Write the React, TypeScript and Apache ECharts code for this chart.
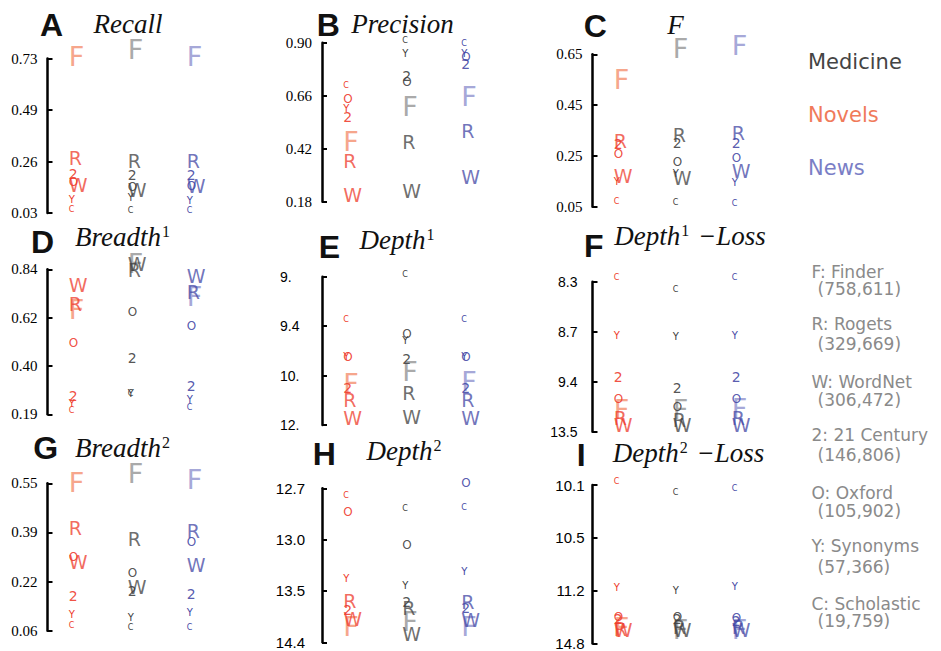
import React, { useEffect, useRef } from "react";
import * as echarts from "echarts";

// ---------- data ----------
const LETTERS = ["F", "R", "W", "2", "O", "Y", "C"];
const THESAURUS_NAMES = ["F: Finder", "R: Rogets", "W: WordNet", "2: 21 Century", "O: Oxford", "Y: Synonyms", "C: Scholastic"];
const THESAURUS_SIZES = ["(758,611)", "(329,669)", "(306,472)", "(146,806)", "(105,902)", "(57,366)", "(19,759)"];
const CORPORA = ["Novels", "Medicine", "News"];
const LEGEND_CORPORA = ["Medicine", "Novels", "News"];

// values per corpus [Novels, Medicine, News], each in letter order F R W 2 O Y C
const recallTicks = ["0.73", "0.49", "0.26", "0.03"];
const recallValues = [
  [0.738, 0.275, 0.153, 0.202, 0.167, 0.089, 0.044],
  [0.772, 0.262, 0.134, 0.199, 0.146, 0.097, 0.040],
  [0.741, 0.262, 0.149, 0.198, 0.149, 0.084, 0.039],
];
const precisionTicks = ["0.90", "0.66", "0.42", "0.18"];
const precisionValues = [
  [0.452, 0.364, 0.210, 0.562, 0.645, 0.603, 0.704],
  [0.613, 0.452, 0.230, 0.749, 0.723, 0.852, 0.912],
  [0.655, 0.501, 0.293, 0.804, 0.834, 0.852, 0.897],
];
const fTicks = ["0.65", "0.45", "0.25", "0.05"];
const fValues = [
  [0.549, 0.310, 0.172, 0.297, 0.257, 0.148, 0.070],
  [0.674, 0.332, 0.162, 0.300, 0.227, 0.179, 0.067],
  [0.683, 0.339, 0.192, 0.300, 0.241, 0.145, 0.061],
];
const breadth1Ticks = ["0.84", "0.62", "0.40", "0.19"];
const breadth1Values = [
  [0.657, 0.683, 0.770, 0.269, 0.504, 0.235, 0.205],
  [0.866, 0.838, 0.862, 0.436, 0.645, 0.281, 0.279],
  [0.717, 0.737, 0.811, 0.314, 0.583, 0.254, 0.219],
];
const depth1Ticks = ["9.", "9.4", "10.", "12."];
const depth1Values = [
  [10.31, 10.99, 11.73, 10.49, 9.77, 9.77, 9.35],
  [9.95, 10.71, 11.69, 9.80, 9.50, 9.58, 8.98],
  [10.24, 10.99, 11.73, 10.49, 9.77, 9.77, 9.35],
];
const depth1LossTicks = ["8.3", "8.7", "9.4", "13.5"];
const depth1LossValues = [
  [11.72, 12.35, 12.95, 9.33, 10.82, 8.756, 8.27],
  [11.72, 12.54, 12.95, 9.94, 11.5, 8.77, 8.36],
  [11.58, 12.35, 12.95, 9.33, 10.82, 8.756, 8.27],
];
const breadth2Ticks = ["0.55", "0.39", "0.22", "0.06"];
const breadth2Values = [
  [0.552, 0.406, 0.286, 0.173, 0.306, 0.112, 0.076],
  [0.583, 0.367, 0.201, 0.190, 0.249, 0.103, 0.071],
  [0.561, 0.395, 0.278, 0.181, 0.356, 0.120, 0.071],
];
const depth2Ticks = ["12.7", "13.0", "13.5", "14.4"];
const depth2Values = [
  [14.13, 13.67, 14.0, 13.83, 12.84, 13.38, 12.74],
  [14.04, 13.80, 14.25, 13.69, 13.05, 13.45, 12.82],
  [14.13, 13.69, 14.01, 13.80, 12.67, 13.31, 12.81],
];
const depth2LossTicks = ["10.1", "10.5", "11.2", "14.8"];
const depth2LossValues = [
  [13.7, 13.82, 13.87, 13.14, 13.02, 11.16, 10.075],
  [13.87, 13.7, 13.87, 13.14, 13.02, 11.2, 10.16],
  [13.87, 13.7, 13.87, 13.25, 13.09, 11.14, 10.125],
];

// ---------- styles ----------
const CORPUS_RGB = [
  [238, 59, 44],
  [64, 64, 64],
  [68, 72, 165],
];
const F_COLORS = ["#f6a68c", "#aaaaaa", "#a6a8d8"];
const LETTER_ALPHA = [1, 0.75, 0.75, 0.9, 0.9, 1, 1];
const LETTER_SIZE = [27, 19, 19, 14, 12, 10, 8];
const LEGEND_COLORS = ["#444444", "#f07a5a", "#7a7ec6"];

const SERIF = "Liberation Serif, DejaVu Serif, serif";
const SANS = "Liberation Sans, Arial, sans-serif";
const DEJAVU = "DejaVu Sans, Verdana, sans-serif";

type Panel = {
  id: string;
  title: string;
  ticks: string[];
  values: number[][];
  left: number;
  top: number;
  height: number;
  idPos: [number, number];
  titlePos: [number, number];
  labelFont: string;
  labelSize: number;
  labelAlign: "left" | "right";
  labelMargin: number;
};

const PANELS: Panel[] = [
  { id: "A", title: "{t|Recall}", ticks: recallTicks, values: recallValues, left: 47.5, top: 58.5, height: 154.5, idPos: [51.5, 24.7], titlePos: [128, 23.7], labelFont: SERIF, labelSize: 15, labelAlign: "right", labelMargin: 10 },
  { id: "B", title: "{t|Precision}", ticks: precisionTicks, values: precisionValues, left: 322, top: 42.7, height: 159, idPos: [328.3, 25], titlePos: [402.5, 23.7], labelFont: SERIF, labelSize: 15, labelAlign: "right", labelMargin: 10 },
  { id: "C", title: "{t|F}", ticks: fTicks, values: fValues, left: 592.5, top: 54.3, height: 152.4, idPos: [595.3, 26.2], titlePos: [675.5, 25], labelFont: SERIF, labelSize: 15, labelAlign: "right", labelMargin: 10 },
  { id: "D", title: "{t|Breadth}{s|1}", ticks: breadth1Ticks, values: breadth1Values, left: 47.5, top: 269.3, height: 145, idPos: [42.5, 242], titlePos: [123.5, 236.5], labelFont: SERIF, labelSize: 15, labelAlign: "right", labelMargin: 10 },
  { id: "E", title: "{t|Depth}{s|1}", ticks: depth1Ticks, values: depth1Values, left: 322, top: 276.7, height: 148.3, idPos: [329.3, 246.7], titlePos: [398, 239.5], labelFont: SANS, labelSize: 14, labelAlign: "left", labelMargin: 42 },
  { id: "F", title: "{t|Depth}{s|1}{t| \u2212Loss}", ticks: depth1LossTicks, values: depth1LossValues, left: 592.5, top: 281.7, height: 150, idPos: [593.8, 245.5], titlePos: [690, 235.5], labelFont: SANS, labelSize: 14, labelAlign: "right", labelMargin: 15 },
  { id: "G", title: "{t|Breadth}{s|2}", ticks: breadth2Ticks, values: breadth2Values, left: 47.5, top: 483.3, height: 147.4, idPos: [45.8, 448.3], titlePos: [123.5, 448.3], labelFont: SERIF, labelSize: 15, labelAlign: "right", labelMargin: 10 },
  { id: "H", title: "{t|Depth}{s|2}", ticks: depth2Ticks, values: depth2Values, left: 322, top: 488.3, height: 154, idPos: [324.2, 453.8], titlePos: [405, 450.5], labelFont: SANS, labelSize: 15, labelAlign: "right", labelMargin: 17 },
  { id: "I", title: "{t|Depth}{s|2}{t| \u2212Loss}", ticks: depth2LossTicks, values: depth2LossValues, left: 592.5, top: 485, height: 159.3, idPos: [581.2, 454.5], titlePos: [688.5, 453.3], labelFont: SANS, labelSize: 15, labelAlign: "right", labelMargin: 8 },
];

// piecewise-linear position of a value between the axis ticks (tick index units)
function toPos(v: number, tickLabels: string[]): number {
  const t = tickLabels.map((s) => parseFloat(s));
  for (let i = 0; i < t.length - 1; i++) {
    const a = t[i];
    const b = t[i + 1];
    const inSeg = (v - a) * (v - b) <= 0;
    const beforeStart = i === 0 && (v - a) * (b - a) < 0;
    const last = i === t.length - 2;
    if (inSeg || beforeStart || last) return i + (v - a) / (b - a);
  }
  return 0;
}

function letterColor(ci: number, li: number) {
  if (li === 0) return F_COLORS[ci];
  const c = CORPUS_RGB[ci];
  return `rgba(${c[0]},${c[1]},${c[2]},${LETTER_ALPHA[li]})`;
}

export default function App() {
  const ref = useRef<HTMLDivElement>(null);

  useEffect(() => {
    if (!ref.current) return;
    const chart = echarts.init(ref.current, undefined, { renderer: "svg" });

    const grid = PANELS.map((p) => ({ left: p.left, top: p.top, width: 177, height: p.height, containLabel: false }));
    const xAxis = PANELS.map((p, i) => ({ gridIndex: i, type: "value", min: -0.36, max: 2.64, show: false }));
    const yAxis = PANELS.map((p, i) => ({
      gridIndex: i,
      type: "value",
      position: "left",
      min: 0,
      max: 3,
      interval: 1,
      inverse: true,
      axisLine: { show: true, onZero: false, lineStyle: { color: "#000", width: 2.5 } },
      axisTick: { show: true, inside: true, length: 5, lineStyle: { color: "#000", width: 2 } },
      splitLine: { show: false },
      axisLabel: {
        show: true,
        showMinLabel: true,
        showMaxLabel: true,
        formatter: (v: number) => p.ticks[Math.round(v)] ?? "",
        fontFamily: p.labelFont,
        fontSize: p.labelSize,
        color: "#000",
        align: p.labelAlign,
        margin: p.labelMargin,
      },
    }));

    const series = PANELS.map((p, i) => {
      const data: number[][] = [];
      for (let li = 0; li < LETTERS.length; li++) {
        for (let ci = 0; ci < CORPORA.length; ci++) {
          data.push([ci, toPos(p.values[ci][li], p.ticks), li, ci]);
        }
      }
      return {
        type: "custom",
        name: p.id,
        xAxisIndex: i,
        yAxisIndex: i,
        clip: false,
        silent: true,
        data,
        renderItem: (params: any, api: any) => {
          const pt = api.coord([api.value(0), api.value(1)]);
          const li = api.value(2) as number;
          const ci = api.value(3) as number;
          return {
            type: "text",
            x: pt[0],
            y: pt[1],
            style: {
              text: LETTERS[li],
              fontFamily: DEJAVU,
              fontSize: LETTER_SIZE[li],
              fill: letterColor(ci, li),
              align: "left",
              verticalAlign: "middle",
            },
          };
        },
      };
    });

    const graphic: any[] = [];
    PANELS.forEach((p) => {
      graphic.push({
        type: "text",
        x: p.idPos[0],
        y: p.idPos[1],
        style: { text: p.id, fontFamily: SANS, fontWeight: "bold", fontSize: 32, fill: "#111", align: "center", verticalAlign: "middle" },
      });
      graphic.push({
        type: "text",
        x: p.titlePos[0],
        y: p.titlePos[1],
        style: {
          text: p.title,
          align: "center",
          verticalAlign: "middle",
          rich: {
            t: { fontFamily: SERIF, fontStyle: "italic", fontSize: 27, fill: "#111" },
            s: { fontFamily: SERIF, fontSize: 16, fill: "#111", verticalAlign: "top", padding: [0, 2, 0, 1] },
          },
        },
      });
    });
    const corpusY = [61.7, 115, 168.3];
    LEGEND_CORPORA.forEach((name, i) => {
      graphic.push({
        type: "text",
        x: 808,
        y: corpusY[i],
        style: { text: name, fontFamily: DEJAVU, fontSize: 21, fill: LEGEND_COLORS[i], verticalAlign: "middle" },
      });
    });
    const nameY = [272.3, 324, 382.3, 435, 493, 546, 604];
    const sizeY = [289, 344.3, 400, 455, 510.7, 566.7, 620.7];
    THESAURUS_NAMES.forEach((name, i) => {
      graphic.push({
        type: "text",
        x: 811.5,
        y: nameY[i],
        style: { text: name, fontFamily: DEJAVU, fontSize: 17, fill: "#8a8a8a", verticalAlign: "middle" },
      });
      graphic.push({
        type: "text",
        x: 817.5,
        y: sizeY[i],
        style: { text: THESAURUS_SIZES[i], fontFamily: DEJAVU, fontSize: 17, fill: "#8a8a8a", verticalAlign: "middle" },
      });
    });

    chart.setOption({
      animation: false,
      backgroundColor: "#ffffff",
      grid,
      xAxis,
      yAxis,
      series,
      graphic,
    } as any);

    return () => chart.dispose();
  }, []);

  return <div ref={ref} style={{ position: "fixed", left: 0, top: 0, width: 941, height: 651, background: "#fff" }} />;
}
